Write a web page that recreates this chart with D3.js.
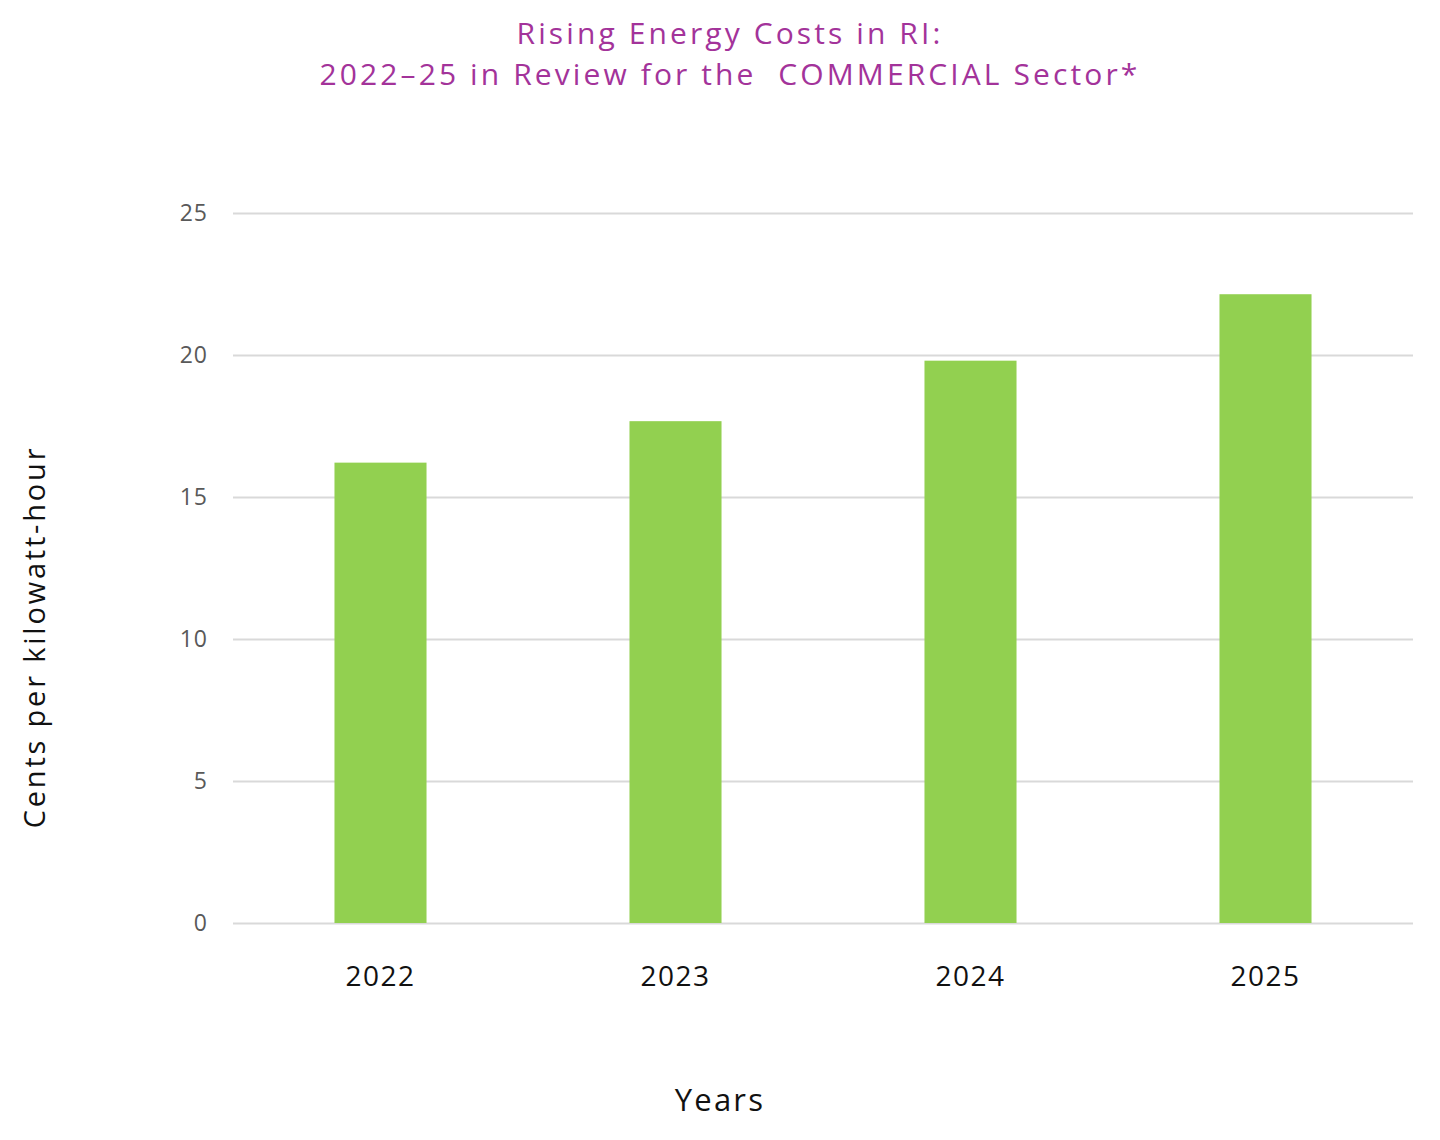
<!DOCTYPE html>
<html>
<head>
<meta charset="utf-8">
<script src="https://cdn.jsdelivr.net/npm/d3@7/dist/d3.min.js"></script>
<style>
  html, body { margin: 0; padding: 0; background: #fff; }
  svg { display: block; }
</style>
</head>
<body>
<svg id="chart" width="1440" height="1140"></svg>
<script>
const titleLines = ["Rising Energy Costs in RI:", "2022\u201325 in Review for the  COMMERCIAL Sector*"];
const years = ["2022", "2023", "2024", "2025"];
const centsPerKwh = [16.21, 17.67, 19.80, 22.14];
const yTicks = [0, 5, 10, 15, 20, 25];
const yAxisTitle = "Cents per kilowatt-hour";
const xAxisTitle = "Years";

const W = 1440, H = 1140;
const margin = { left: 233, right: 27, top: 213, bottom: 217 };
const plotW = W - margin.left - margin.right;
const plotH = H - margin.top - margin.bottom;
const font = "'Open Sans', Lato, sans-serif";

const svg = d3.select("#chart");
const g = svg.append("g").attr("transform", `translate(${margin.left},${margin.top})`);

const x = d3.scaleBand().domain(years).range([0, plotW]).paddingInner(0.688).paddingOuter(0.344);
const y = d3.scaleLinear().domain([0, 25]).range([plotH, 0]);

// gridlines + y labels
const yAxis = d3.axisLeft(y).tickValues(yTicks).tickSize(-plotW).tickPadding(25).tickFormat(d3.format("d"));
const ya = g.append("g").call(yAxis);
ya.select(".domain").remove();
ya.selectAll(".tick line").attr("stroke", "#d9d9d9").attr("stroke-width", 2);
ya.selectAll(".tick text").attr("fill", "#595959").style("font-family", font).style("font-size", "23px")
  .style("letter-spacing", "1px");

// bars
g.selectAll("rect.bar").data(years).enter().append("rect")
  .attr("class", "bar")
  .attr("x", d => x(d))
  .attr("width", x.bandwidth())
  .attr("y", (d, i) => y(centsPerKwh[i]))
  .attr("height", (d, i) => plotH - y(centsPerKwh[i]))
  .attr("fill", "#92d050");

// x axis labels
const xAxis = d3.axisBottom(x).tickSize(0).tickPadding(43);
const xa = g.append("g").attr("transform", `translate(0,${plotH})`).call(xAxis);
xa.select(".domain").remove();
xa.selectAll(".tick text").attr("fill", "#111").style("font-family", font).style("font-size", "28px")
  .style("letter-spacing", "1.5px");

// titles
const title = svg.append("text").attr("text-anchor", "middle").attr("fill", "#a3339a")
  .attr("xml:space", "preserve").style("white-space", "pre")
  .style("font-family", font).style("font-size", "30px").style("letter-spacing", "3.1px");
title.selectAll("tspan").data(titleLines).enter().append("tspan")
  .attr("x", 730).attr("y", (d, i) => 44 + i * 41).text(d => d);

svg.append("text").attr("text-anchor", "middle").attr("fill", "#111")
  .attr("transform", "translate(45,637) rotate(-90)")
  .style("font-family", font).style("font-size", "29px").style("letter-spacing", "2.8px").text(yAxisTitle);

svg.append("text").attr("text-anchor", "middle").attr("fill", "#111")
  .attr("x", 720).attr("y", 1111)
  .style("font-family", font).style("font-size", "31px").style("letter-spacing", "2.2px").text(xAxisTitle);
</script>
</body>
</html>
